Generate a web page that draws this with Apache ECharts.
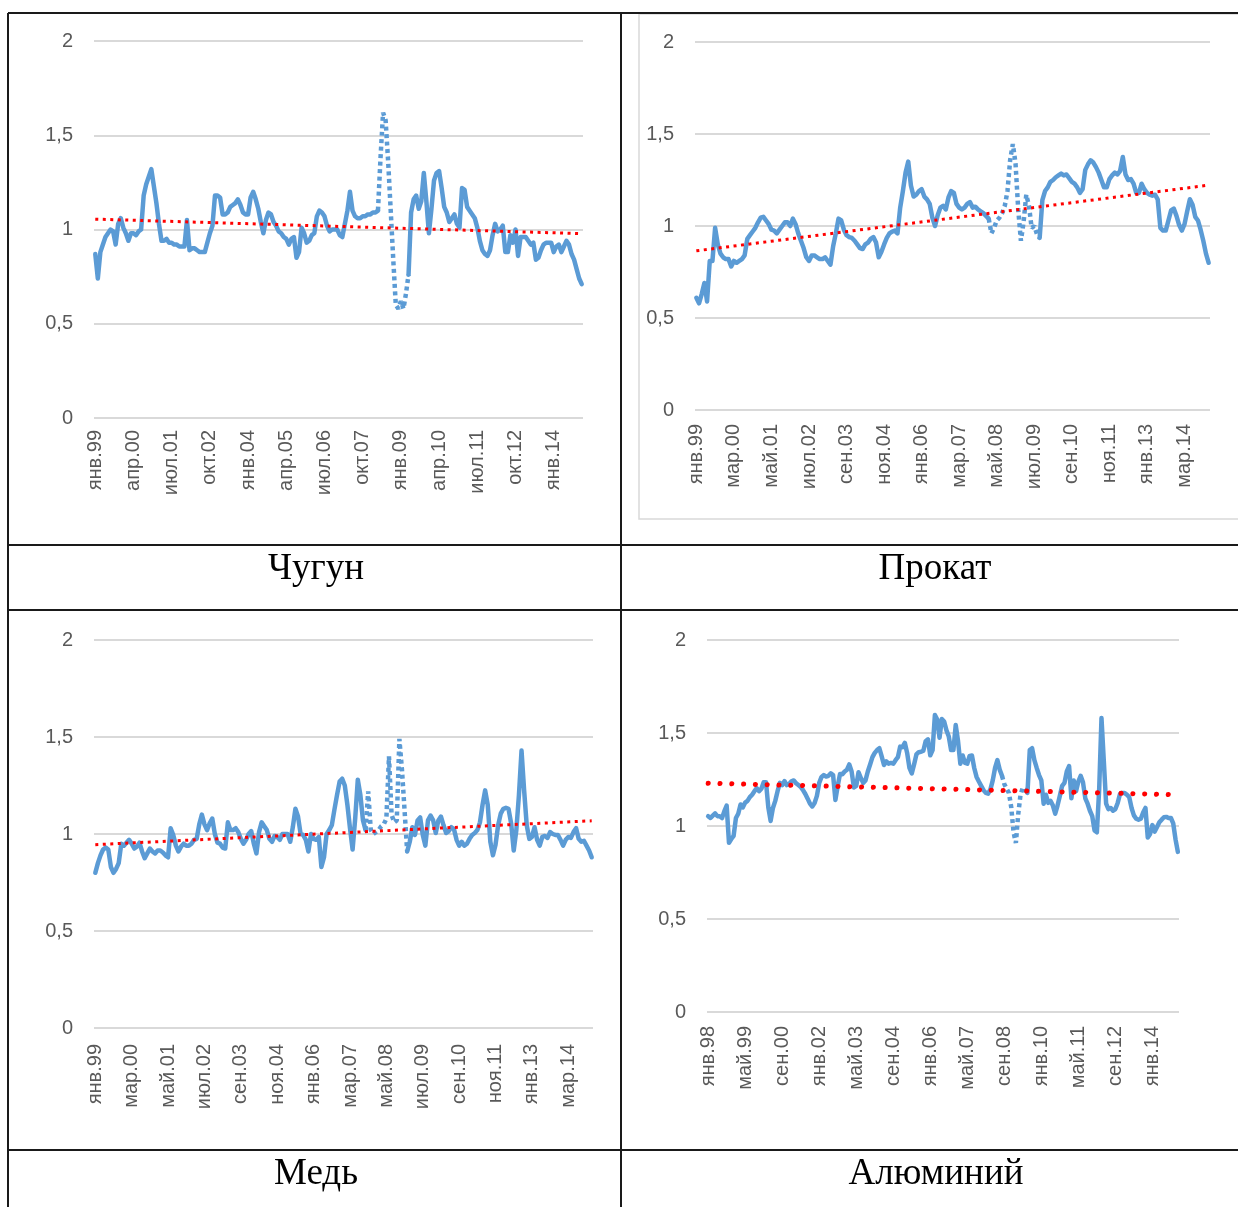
<!DOCTYPE html>
<html>
<head>
<meta charset="utf-8">
<script src="https://cdn.jsdelivr.net/npm/echarts@6/dist/echarts.min.js"></script>
<style>
  html, body { margin: 0; padding: 0; background: #fff; }
  #main { width: 1238px; height: 1207px; }
</style>
</head>
<body>
<div id="main"></div>
<script>
const monthNames = ["янв", "фев", "мар", "апр", "май", "июн", "июл", "авг", "сен", "окт", "ноя", "дек"];
const yTicks = [0, 0.5, 1, 1.5, 2];

// Чугун, янв.99 - дек.14
const chugunValues = [
  0.87, 0.74, 0.88, 0.92, 0.96, 0.98, 1.0, 0.99, 0.92, 1.03,
  1.06, 1.01, 0.98, 0.94, 0.98, 0.98, 0.97, 0.99, 1.0, 1.18,
  1.24, 1.28, 1.32, 1.23, 1.14, 1.03, 0.94, 0.94, 0.95, 0.93,
  0.93, 0.92, 0.92, 0.91, 0.91, 0.91, 1.05, 0.89, 0.9, 0.9,
  0.89, 0.88, 0.88, 0.88, 0.93, 0.98, 1.02, 1.18, 1.18, 1.17,
  1.08, 1.08, 1.09, 1.12, 1.13, 1.14, 1.16, 1.13, 1.09, 1.08,
  1.08, 1.17, 1.2, 1.16, 1.11, 1.04, 0.98, 1.05, 1.09, 1.08,
  1.04, 1.02, 0.99, 0.98, 0.96, 0.95, 0.92, 0.95, 0.96, 0.85,
  0.88, 1.01, 0.98, 0.93, 0.94, 0.97, 0.98, 1.07, 1.1, 1.09,
  1.07, 1.02, 0.99, 1.0, 1.0, 1.0, 0.97, 0.96, 1.03, 1.1,
  1.2, 1.1, 1.07, 1.06, 1.06, 1.07, 1.07, 1.08, 1.08, 1.09,
  1.09, 1.1, 1.38, 1.62, 1.58, 1.36, 1.1, 0.84, 0.6, 0.58,
  0.62, 0.58, 0.66, 0.76, 1.09, 1.16, 1.18, 1.11, 1.15, 1.3,
  1.15, 0.98, 1.11, 1.26, 1.3, 1.31, 1.22, 1.12, 1.09, 1.04,
  1.06, 1.08, 1.03, 1.01, 1.22, 1.21, 1.12, 1.1, 1.08, 1.06,
  1.01, 0.94, 0.89, 0.87, 0.86, 0.89, 0.97, 1.03, 0.99, 1.0,
  1.02, 0.88, 0.88, 0.97, 0.93, 1.0, 0.86, 0.96, 0.96, 0.96,
  0.94, 0.92, 0.93, 0.84, 0.85, 0.89, 0.92, 0.93, 0.93, 0.93,
  0.88, 0.91, 0.92, 0.88, 0.91, 0.94, 0.92, 0.87, 0.84, 0.79,
  0.74, 0.71
];
const chugunDotted = [111, 123];
const chugunTrend = [1.055, 0.978];

// Прокат, янв.99 - дек.14
const prokatValues = [
  0.61, 0.58, 0.63, 0.69, 0.59, 0.81, 0.81, 0.99, 0.9, 0.85,
  0.83, 0.82, 0.82, 0.78, 0.81, 0.8, 0.81, 0.82, 0.84, 0.93,
  0.95, 0.97, 0.99, 1.02, 1.045, 1.05, 1.03, 1.01, 0.98, 0.975,
  0.96, 0.98, 1.0, 1.02, 1.02, 1.0, 1.04, 1.01, 0.96, 0.92,
  0.88, 0.83, 0.81, 0.84, 0.84, 0.83, 0.82, 0.82, 0.83, 0.81,
  0.79, 0.89, 0.96, 1.04, 1.03, 0.98, 0.95, 0.94, 0.935, 0.92,
  0.9, 0.88, 0.875, 0.9, 0.91, 0.93, 0.94, 0.91, 0.83, 0.86,
  0.9, 0.935, 0.96, 0.97, 0.975, 0.96, 1.1, 1.19, 1.29, 1.35,
  1.22, 1.16, 1.17, 1.19, 1.2, 1.16, 1.145, 1.12, 1.045, 1.0,
  1.06, 1.1, 1.11, 1.09, 1.155, 1.19, 1.18, 1.12, 1.1, 1.09,
  1.1, 1.12, 1.13, 1.1, 1.105, 1.09, 1.08, 1.07, 1.055, 1.04,
  0.96, 0.99, 1.03, 1.045, 1.07, 1.11, 1.19, 1.36, 1.445, 1.34,
  1.09, 0.92, 1.02, 1.17, 1.11, 0.99, 1.0, 0.955, 0.935, 1.14,
  1.19, 1.21, 1.24, 1.25, 1.265, 1.275, 1.285, 1.275, 1.28, 1.26,
  1.24, 1.23, 1.21, 1.18, 1.2, 1.305, 1.335, 1.357, 1.345, 1.32,
  1.29, 1.25, 1.21, 1.21, 1.255, 1.275, 1.29, 1.28, 1.3, 1.375,
  1.28, 1.25, 1.255, 1.23, 1.18, 1.18, 1.23, 1.2, 1.18, 1.17,
  1.165, 1.17, 1.145, 0.99, 0.975, 0.975, 1.03, 1.085, 1.095, 1.055,
  1.005, 0.975, 1.01, 1.08, 1.145, 1.115, 1.05, 1.03, 0.98, 0.92,
  0.85, 0.8
];
const prokatDotted = [109, 128];
const prokatTrend = [0.865, 1.222];

// Медь, янв.99 - дек.14
const medValues = [
  0.8, 0.85, 0.89, 0.92, 0.93, 0.92, 0.83, 0.8, 0.82, 0.85,
  0.95, 0.94, 0.955, 0.97, 0.95, 0.925, 0.935, 0.955, 0.91, 0.875,
  0.9, 0.925, 0.91, 0.9, 0.915, 0.915, 0.905, 0.89, 0.88, 1.03,
  0.995, 0.94, 0.91, 0.935, 0.95, 0.94, 0.94, 0.95, 0.97, 0.975,
  1.05, 1.1, 1.05, 1.02, 1.055, 1.08, 1.0, 0.955, 0.95, 0.93,
  0.925, 1.06, 1.02, 1.02, 1.03, 1.01, 0.975, 0.95, 0.97, 1.0,
  1.015, 0.95, 0.9, 1.01, 1.06, 1.04, 1.02, 0.975, 0.96, 0.99,
  0.985, 0.97, 1.0, 1.0, 1.0, 0.96, 1.035, 1.13, 1.09, 1.0,
  0.995, 0.97, 0.91, 1.0, 0.975, 0.97, 0.985, 0.83, 0.88, 1.0,
  1.02, 1.045, 1.125, 1.2, 1.27, 1.285, 1.25, 1.15, 1.03, 0.92,
  1.08, 1.28, 1.2, 1.07, 1.02, 1.22, 1.02, 1.0, 1.01, 1.02,
  1.04, 1.05, 1.08, 1.4, 1.1, 1.06, 1.07, 1.49, 1.33, 1.12,
  0.91, 0.96, 1.035, 0.995, 1.07, 1.085, 0.995, 0.94, 1.07, 1.095,
  1.07, 1.005, 1.07, 1.09, 1.045, 1.005, 1.015, 1.035, 1.025, 0.97,
  0.94, 0.96, 0.94, 0.95, 0.975, 0.995, 1.005, 1.02, 1.06, 1.15,
  1.225, 1.15, 0.96, 0.89, 0.945, 1.045, 1.105, 1.13, 1.135, 1.13,
  1.055, 0.915, 1.02, 1.2, 1.43, 1.225, 1.045, 0.975, 0.985, 1.035,
  0.97, 0.94, 0.985, 0.99, 0.98, 1.01, 1.0, 0.995, 0.995, 0.97,
  0.94, 0.97, 0.985, 0.98, 1.01, 1.03, 0.975, 0.96, 0.965, 0.94,
  0.915, 0.88
];
const medDotted = [104, 120];
const medTrend = [0.945, 1.068];

// Алюминий, янв.98 - дек.14
const alumValues = [
  1.053, 1.043, 1.056, 1.068, 1.053, 1.053, 1.043, 1.08, 1.11, 0.91,
  0.93, 0.947, 1.043, 1.066, 1.116, 1.1, 1.126, 1.135, 1.155, 1.168,
  1.187, 1.203, 1.187, 1.2, 1.235, 1.235, 1.1, 1.027, 1.097, 1.135,
  1.187, 1.232, 1.22, 1.241, 1.22, 1.226, 1.24, 1.245, 1.23, 1.22,
  1.21, 1.193, 1.172, 1.147, 1.12, 1.105, 1.124, 1.162, 1.232, 1.264,
  1.274, 1.266, 1.27, 1.283, 1.274, 1.14, 1.216, 1.28, 1.278, 1.293,
  1.303, 1.331, 1.293, 1.207, 1.216, 1.289, 1.258, 1.232, 1.245, 1.293,
  1.331, 1.37, 1.393, 1.408, 1.418, 1.374, 1.328, 1.347, 1.335, 1.339,
  1.335, 1.354, 1.37, 1.427, 1.424, 1.447, 1.393, 1.312, 1.283, 1.331,
  1.385, 1.397, 1.399, 1.405, 1.456, 1.466, 1.38, 1.408, 1.597, 1.572,
  1.475, 1.575, 1.562, 1.514, 1.481, 1.408, 1.408, 1.543, 1.456, 1.335,
  1.379, 1.339, 1.335, 1.377, 1.379, 1.312, 1.264, 1.239, 1.216, 1.193,
  1.178, 1.174, 1.197, 1.245, 1.312, 1.354, 1.303, 1.27, 1.226, 1.2,
  1.178, 1.1, 0.966, 0.909, 1.062, 1.168, 1.207, 1.197, 1.178, 1.408,
  1.418, 1.354, 1.312, 1.274, 1.245, 1.12, 1.168, 1.124, 1.135, 1.11,
  1.066, 1.11, 1.162, 1.216, 1.232, 1.293, 1.322, 1.149, 1.245, 1.187,
  1.239, 1.27, 1.235, 1.149, 1.12, 1.082, 1.053, 0.976, 0.966, 1.197,
  1.58, 1.35, 1.12, 1.091, 1.097, 1.082, 1.091, 1.124, 1.172, 1.178,
  1.178, 1.168, 1.155, 1.097, 1.057, 1.039, 1.034, 1.039, 1.072, 1.097,
  0.938, 0.957, 1.005, 0.97, 0.995, 1.02, 1.034, 1.047, 1.049, 1.043,
  1.043, 1.014, 0.928, 0.861
];
const alumDotted = [127, 138];
const alumTrend = [1.23, 1.168];

function makeMonths(startYear, count) {
  const out = [];
  for (let i = 0; i < count; i++) {
    const yy = (startYear + Math.floor(i / 12)) % 100;
    out.push(monthNames[i % 12] + "." + String(yy).padStart(2, "0"));
  }
  return out;
}

const BLUE = "#5b9bd5";
const LABEL_FONT = "Liberation Sans";

const panels = [
  { values: chugunValues, dotted: chugunDotted, trend: chugunTrend, startYear: 1999, labelStep: 14,
    rect: { left: 94, top: 41, width: 489, height: 377 }, labelMargin: 12,
    trendStyle: { width: 3, type: [3, 4.5] } },
  { values: prokatValues, dotted: prokatDotted, trend: prokatTrend, startYear: 1999, labelStep: 13,
    rect: { left: 695, top: 42, width: 515, height: 368 }, labelMargin: 14,
    trendStyle: { width: 3, type: [3, 4.5] } },
  { values: medValues, dotted: medDotted, trend: medTrend, startYear: 1999, labelStep: 13,
    rect: { left: 94, top: 640, width: 499, height: 388 }, labelMargin: 16,
    trendStyle: { width: 3, type: [3, 4.5] } },
  { values: alumValues, dotted: alumDotted, trend: alumTrend, startYear: 1998, labelStep: 15,
    rect: { left: 707, top: 640, width: 472, height: 372 }, labelMargin: 14,
    trendStyle: { width: 5, type: [0.1, 11.7], cap: "round" } }
];

const grid = [], xAxis = [], yAxis = [], series = [];

panels.forEach((p, k) => {
  const n = p.values.length;
  const [a, b] = p.dotted;
  grid.push(Object.assign({ containLabel: false }, p.rect));
  xAxis.push({
    type: "category",
    gridIndex: k,
    data: makeMonths(p.startYear, n),
    boundaryGap: true,
    axisLine: { show: false },
    axisTick: { show: false },
    axisLabel: {
      interval: p.labelStep,
      rotate: 90,
      margin: p.labelMargin,
      color: "#595959",
      fontFamily: LABEL_FONT,
      fontSize: 20
    }
  });
  yAxis.push({
    type: "value",
    gridIndex: k,
    min: 0,
    max: 2,
    interval: 0.5,
    axisLine: { show: false },
    axisTick: { show: false },
    splitLine: { lineStyle: { color: "#d9d9d9", width: 2 } },
    axisLabel: {
      margin: 21,
      color: "#595959",
      fontFamily: LABEL_FONT,
      fontSize: 20,
      formatter: (v) => (yTicks.includes(v) ? String(v).replace(".", ",") : "")
    }
  });
  // solid part
  series.push({
    type: "line",
    xAxisIndex: k,
    yAxisIndex: k,
    data: p.values.map((v, i) => (i > a && i < b ? null : v)),
    showSymbol: false,
    connectNulls: false,
    lineStyle: { color: BLUE, width: 4.5, join: "round", cap: "round" },
    itemStyle: { color: BLUE },
    z: 2
  });
  // dotted part (crisis period)
  series.push({
    type: "line",
    xAxisIndex: k,
    yAxisIndex: k,
    data: p.values.map((v, i) => (i >= a && i <= b ? v : null)),
    showSymbol: false,
    lineStyle: { color: BLUE, width: 4.5, type: [4, 3.5] },
    itemStyle: { color: BLUE },
    z: 2
  });
  // linear trend
  series.push({
    type: "line",
    xAxisIndex: k,
    yAxisIndex: k,
    data: p.values.map((v, i) => (i === 0 ? p.trend[0] : i === n - 1 ? p.trend[1] : null)),
    connectNulls: true,
    showSymbol: false,
    lineStyle: Object.assign({ color: "#ff0000" }, p.trendStyle),
    itemStyle: { color: "#ff0000" },
    z: 3
  });
});

// table frame
const border = { stroke: "#1a1a1a", lineWidth: 2 };
const tableLines = [
  [8, 13, 1238, 13],
  [8, 545, 1238, 545],
  [8, 610, 1238, 610],
  [8, 1150, 1238, 1150],
  [8, 13, 8, 1207],
  [621, 13, 621, 1207]
];
const graphic = tableLines.map((l) => ({
  type: "line",
  shape: { x1: l[0], y1: l[1], x2: l[2], y2: l[3] },
  style: border,
  silent: true
}));
// chart area frame of "Прокат"
graphic.push({
  type: "rect",
  shape: { x: 639, y: 14, width: 640, height: 505 },
  style: { stroke: "#d9d9d9", lineWidth: 1.5, fill: null },
  silent: true,
  z: -1
});

const captions = [
  ["Чугун", 316, 569],
  ["Прокат", 935, 569],
  ["Медь", 316, 1174],
  ["Алюминий", 936, 1174]
];
captions.forEach((c) => {
  graphic.push({
    type: "text",
    x: c[1],
    y: c[2],
    style: {
      text: c[0],
      font: '37px "Liberation Serif"',
      fill: "#000",
      align: "center",
      verticalAlign: "middle",
      textAlign: "center",
      textVerticalAlign: "middle"
    },
    silent: true
  });
});

const chart = echarts.init(document.getElementById("main"), null, { renderer: "canvas" });
chart.setOption({
  animation: false,
  backgroundColor: "#fff",
  grid: grid,
  xAxis: xAxis,
  yAxis: yAxis,
  series: series,
  graphic: graphic
});
</script>
</body>
</html>
